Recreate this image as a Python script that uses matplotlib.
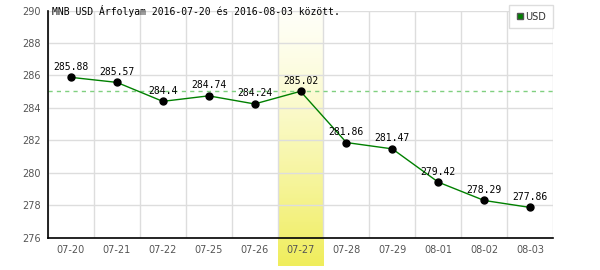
# MNB USD exchange rate chart, 2016-07-20 .. 2016-08-03
import numpy as np
import matplotlib
matplotlib.use('Agg')
import matplotlib.pyplot as plt
from matplotlib.lines import Line2D

# Data
dates = ['07-20', '07-21', '07-22', '07-25', '07-26', '07-27',
         '07-28', '07-29', '08-01', '08-02', '08-03']
rates = [285.88, 285.57, 284.4, 284.74, 284.24, 285.02,
         281.86, 281.47, 279.42, 278.29, 277.86]
highlight = 5  # 07-27
title = 'MNB USD Árfolyam 2016-07-20 és 2016-08-03 között.'

mono = 'DejaVu Sans Mono'

fig = plt.figure(figsize=(6, 2.7), dpi=100)
ax = fig.add_axes([0.08, 0.12, 0.8417, 0.841])

x = np.arange(len(dates))

# Highlighted day: vertical gradient band reaching below the axis
grad = np.linspace(0, 1, 256).reshape(-1, 1) ** 1.3
top_c = np.array([1.0, 1.0, 0.97])
bot_c = np.array([0.94, 0.93, 0.36])
img = top_c + (bot_c - top_c) * grad
img = img.reshape(256, 1, 3)
ax.imshow(img, extent=(highlight - 0.5, highlight + 0.5, -0.125, 1.0),
          transform=ax.get_xaxis_transform(), aspect='auto',
          origin='upper', clip_on=False, zorder=0)

# Reference line at highlighted value
ax.axhline(rates[highlight], color='#80d080', lw=1, ls=(0, (3, 3)), zorder=2)

ax.plot(x, rates, color='#008000', lw=1, zorder=3)
ax.plot(x, rates, 'o', color='black', markersize=5, zorder=4)

for xi, v in zip(x, rates):
    ax.annotate(f'{v:g}', (xi, v), xytext=(0, 4), textcoords='offset points',
                ha='center', va='bottom', fontsize=7, family=mono, color='black',
                zorder=5)

ax.set_xlim(-0.5, len(dates) - 0.5)
ax.set_ylim(276, 290)
ax.set_xticks(x)
ax.set_xticklabels(dates)
ax.set_xticks(np.arange(-0.5, len(dates)), minor=True)
ax.set_yticks(np.arange(276, 291, 2))
ax.tick_params(axis='both', which='both', length=0, labelsize=7,
               labelcolor='#555555', pad=5)
ax.grid(True, which='minor', axis='x', color='#dddddd', lw=1, zorder=1)
ax.grid(True, which='major', axis='y', color='#dddddd', lw=1, zorder=1)
ax.set_axisbelow(True)

for s in ['top', 'right']:
    ax.spines[s].set_visible(False)
for s in ['left', 'bottom']:
    ax.spines[s].set_color('black')
    ax.spines[s].set_linewidth(1.2)
    ax.spines[s].set_zorder(6)

ax.text(0.008, 1.0, title, transform=ax.transAxes, ha='left', va='center',
        fontsize=7, family=mono, color='black', zorder=6)

handle = Line2D([], [], marker='s', ls='none', markerfacecolor='#008000',
                markeredgecolor='#555555', markersize=5)
leg = ax.legend([handle], ['USD'], loc='upper right', fontsize=7,
                frameon=True, fancybox=False, handlelength=0.7,
                handletextpad=0.25, borderpad=0.7, borderaxespad=0.0,
                bbox_to_anchor=(1.0, 1.025))
leg.get_frame().set_edgecolor('#dddddd')
leg.get_frame().set_linewidth(1)
leg.get_frame().set_alpha(1)
for t in leg.get_texts():
    t.set_color('#333333')

fig.savefig('out.png', dpi=100)
